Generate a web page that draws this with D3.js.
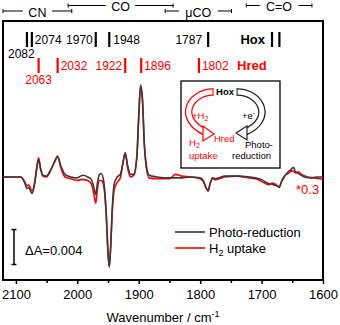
<!DOCTYPE html>
<html><head><meta charset="utf-8">
<script src="https://cdn.jsdelivr.net/npm/d3@7"></script>
<style>body{margin:0;background:#fff}svg{display:block;font-family:"Liberation Sans",Arial,sans-serif}</style>
</head><body>
<svg id="c" width="340" height="325"></svg>
<script>
// wavenumbers (cm-1) and ΔA (x1000)
const wnPhoto = [2121,2100,2092,2086,2082,2079,2074,2069,2066,2063,2060,2056,2050,2045,2038,2032,2027,2020,2010,2000,1995,1990,1983,1977,1973,1970,1967,1964,1961,1957,1953,1950,1948,1946,1943,1940,1935,1930,1926,1922,1918,1913,1908,1903,1900,1897,1894,1891,1887,1883,1870,1850,1830,1815,1800,1795,1790,1787,1784,1780,1775,1770,1760,1740,1720,1710,1700,1690,1685,1680,1675,1671,1668,1663,1657,1653,1648,1645,1640,1630,1620,1610,1600];
const dAPhoto = [0,0,0,-0.6,-1.3,-1.2,-1.9,-0.6,1.0,2.0,1.0,0.2,0.1,0.6,1.6,2.3,1.3,0.3,0.0,-0.1,0.1,0.2,0.0,-0.3,-1.2,-2.0,-0.6,0.3,0.4,-0.5,-4.0,-8.5,-10.3,-8.5,-3.5,-0.8,0.0,0.3,1.5,2.7,1.3,0.3,0.3,2.5,7.0,10.5,9.0,4.0,1.0,0.2,0,-0.1,-0.1,0,-0.1,-0.4,-1.3,-1.6,-0.8,-0.1,-0.2,-0.1,0.1,0.1,0,-0.1,-0.3,-0.7,-0.8,-0.9,-1.0,-1.2,-0.6,0.0,0.6,0.8,1.1,0.6,0.4,0.0,-0.1,0.0,0.0];
const wnH2 = [2121,2092,2086,2082,2079,2074,2069,2066,2063,2060,2056,2050,2045,2038,2032,2027,2020,2010,2000,1995,1990,1983,1977,1973,1970,1967,1964,1961,1957,1953,1950,1948,1946,1943,1940,1935,1930,1926,1922,1918,1913,1908,1903,1900,1897,1894,1891,1887,1883,1870,1850,1840,1830,1815,1800,1795,1790,1787,1784,1780,1775,1760,1740,1720,1710,1700,1692,1688,1683,1678,1671,1668,1663,1657,1650,1645,1640,1635,1625,1615,1605,1600];
const dAH2 = [0,0,-0.5,-1.0,-0.9,-1.6,-0.4,1.2,2.2,1.0,0.1,0.0,0.5,1.6,2.4,1.1,0.0,-0.2,-0.4,-0.3,-0.3,-0.4,-0.8,-2.0,-3.0,-1.2,-0.4,-0.4,-1.0,-4.3,-8.8,-10.2,-8.3,-3.8,-1.5,-0.6,-0.1,1.5,2.8,1.0,0.0,0.2,2.3,6.8,10.3,8.8,3.8,0.8,-0.1,-0.2,-0.2,0.3,0.1,0,-0.2,-0.5,-1.3,-1.6,-0.8,-0.2,-0.3,0,0.1,-0.1,-0.2,-0.5,-0.8,-0.9,-0.7,-0.8,-1.1,-0.6,0.1,0.4,0.7,0.5,0.6,0.3,0.0,-0.1,-0.2,-0.3];
const xTicks = [2100,2000,1900,1800,1700,1600];
const xMinorTicks = [2050,1950,1850,1750,1650];
const oxPos = [2082,2074,1970,1948,1787,1683,1671];
const redPos = [2063,2032,1922,1896,1802];
const scaleBar = [-10,-6];
const ranges = [{name:"CN",a:2121,b:2009,row:1},{name:"CO",a:2015,b:1844,row:0},{name:"μCO",a:1857,b:1749,row:1},{name:"C=O",a:1725,b:1618,row:0}];

const svg = d3.select("#c");
const x = d3.scaleLinear().domain([2121,1600]).range([3,323]);
const y = d3.scaleLinear().domain([-11.77,17.83]).range([280,21]);

// top range annotations
ranges.forEach(r=>{
  const yy = r.row ? 11 : 5.5;
  const x1 = x(r.a), x2 = x(r.b), xm=(x1+x2)/2;
  const g = svg.append("g").attr("stroke","#000").attr("stroke-width",1);
  const tw = r.name.length*4.8+5;
  g.append("line").attr("x1",x1).attr("x2",xm-tw).attr("y1",yy).attr("y2",yy);
  g.append("line").attr("x1",xm+tw).attr("x2",x2).attr("y1",yy).attr("y2",yy);
  g.append("line").attr("x1",x1).attr("x2",x1).attr("y1",yy-2).attr("y2",yy+2);
  g.append("line").attr("x1",x2).attr("x2",x2).attr("y1",yy-2).attr("y2",yy+2);
  svg.append("text").attr("x",xm).attr("y",yy+5.5).attr("text-anchor","middle").attr("font-size",12.5).text(r.name);
});

// frame
svg.append("rect").attr("x",3).attr("y",21).attr("width",320).attr("height",259).attr("fill","none").attr("stroke","#000").attr("stroke-width",2);

// axis
const ax = svg.append("g").attr("transform","translate(0,280)")
  .call(d3.axisBottom(x).tickValues(xTicks).tickSize(4).tickFormat(d3.format("d")));
ax.select(".domain").remove();
ax.selectAll("line").attr("stroke-width",1.5);
ax.selectAll("text").attr("font-size",13).attr("font-family","Liberation Sans, Arial, sans-serif").attr("dy","0.95em");
const axm = svg.append("g").attr("transform","translate(0,280)")
  .call(d3.axisBottom(x).tickValues(xMinorTicks).tickSize(3).tickFormat(""));
axm.select(".domain").remove();
axm.selectAll("line").attr("stroke-width",1.5);
const tt = svg.append("text").attr("x",163).attr("y",322).attr("text-anchor","middle").attr("font-size",13);
tt.append("tspan").text("Wavenumber / cm");
tt.append("tspan").attr("font-size",9).attr("dy",-5).text("-1");

// peak labels
svg.selectAll(".ob").data(oxPos).join("line").attr("x1",d=>x(d)).attr("x2",d=>x(d)).attr("y1",32).attr("y2",47).attr("stroke","#000").attr("stroke-width",2.2);
svg.selectAll(".rb").data(redPos).join("line").attr("x1",d=>x(d)).attr("x2",d=>x(d)).attr("y1",58).attr("y2",73).attr("stroke","#f00").attr("stroke-width",2.2);
const lbl=(t,px,py,col,anchor,bold,fs)=>svg.append("text").attr("x",px).attr("y",py).attr("fill",col).attr("font-size",fs||12).attr("text-anchor",anchor||"start").attr("font-weight",bold?"bold":"normal").text(t);
lbl("2074",x(2074)+3,44,"#000");
lbl("1970",x(1970)-3,44,"#000","end");
lbl("1948",x(1948)+4,44,"#000");
lbl("1787",x(1787)-6,44,"#000","end");
lbl("Hox",x(1683)-7,44,"#000","end",true,13);
lbl("2082",8,58,"#000");
lbl("2063",x(2063),84,"#f00","middle");
lbl("2032",x(2032)+3,70,"#f00");
lbl("1922",x(1922)-3,70,"#f00","end");
lbl("1896",x(1896)+3,70,"#f00");
lbl("1802",x(1802)+3,70,"#f00");
lbl("Hred",237,70,"#f00","start",true,13);

// spectra
const line = d3.line().x(d=>x(d[0])).y(d=>y(d[1])).curve(d3.curveMonotoneX);
svg.append("path").datum(d3.zip(wnH2,dAH2)).attr("d",line).attr("fill","none").attr("stroke","#f00").attr("stroke-width",1.6);
svg.append("path").datum(d3.zip(wnPhoto,dAPhoto)).attr("d",line).attr("fill","none").attr("stroke","#3a3a3a").attr("stroke-width",1.6);

lbl("*0.3",296,194,"#f00","start",false,13);

// scale bar
const sb = svg.append("g").attr("stroke","#000").attr("stroke-width",1.5);
sb.append("line").attr("x1",14).attr("x2",14).attr("y1",y(scaleBar[0])).attr("y2",y(scaleBar[1]));
sb.append("line").attr("x1",11.5).attr("x2",16.5).attr("y1",y(scaleBar[0])).attr("y2",y(scaleBar[0]));
sb.append("line").attr("x1",11.5).attr("x2",16.5).attr("y1",y(scaleBar[1])).attr("y2",y(scaleBar[1]));
lbl("ΔA=0.004",25,255,"#000","start",false,13);

// legend
svg.append("line").attr("x1",175).attr("x2",205).attr("y1",232).attr("y2",232).attr("stroke","#3a3a3a").attr("stroke-width",1.6);
svg.append("line").attr("x1",175).attr("x2",205).attr("y1",248).attr("y2",248).attr("stroke","#f00").attr("stroke-width",1.6);
lbl("Photo-reduction",209,237,"#000","start",false,13);
const l2 = svg.append("text").attr("x",209).attr("y",253).attr("font-size",13);
l2.append("tspan").text("H");
l2.append("tspan").attr("font-size",9).attr("dy",3).text("2");
l2.append("tspan").attr("dy",-3).text(" uptake");

// inset
svg.append("rect").attr("x",181).attr("y",81).attr("width",99).attr("height",87).attr("fill","#fff").attr("stroke","#000").attr("stroke-width",1.3);
function hollowArc(d,col){
  svg.append("path").attr("d",d).attr("fill","none").attr("stroke",col).attr("stroke-width",7.5);
  svg.append("path").attr("d",d).attr("fill","none").attr("stroke","#fff").attr("stroke-width",5);
}
hollowArc("M213,92 C190,92 176,118 205,132","#f00");
svg.append("path").attr("d","M203,126 L214,134 L203,141 Z").attr("fill","#fff").attr("stroke","#f00").attr("stroke-width",1.2);
hollowArc("M237,92 C262,92 274,120 245,132","#222");
svg.append("path").attr("d","M247,126 L236,133 L247,140 Z").attr("fill","#fff").attr("stroke","#222").attr("stroke-width",1.2);
// end caps
svg.append("line").attr("x1",213).attr("x2",213).attr("y1",88).attr("y2",96).attr("stroke","#f00").attr("stroke-width",1);
svg.append("line").attr("x1",237).attr("x2",237).attr("y1",88).attr("y2",96).attr("stroke","#222").attr("stroke-width",1);
const sm=(t,px,py,col,anchor,bold)=>svg.append("text").attr("x",px).attr("y",py).attr("fill",col).attr("font-size",9.5).attr("text-anchor",anchor||"start").attr("font-weight",bold?"bold":"normal").text(t);
sm("Hox",225,95,"#000","middle",true);
const h2t = svg.append("text").attr("x",192).attr("y",119).attr("fill","#f00").attr("font-size",9.5);
h2t.append("tspan").text("+H"); h2t.append("tspan").attr("font-size",7).attr("dy",2).text("2");
const et = svg.append("text").attr("x",242).attr("y",119).attr("fill","#000").attr("font-size",9.5);
et.append("tspan").text("+e"); et.append("tspan").attr("font-size",7).attr("dy",-4).text("-");
sm("Hred",214,142,"#f00");
const h2b = svg.append("text").attr("x",189).attr("y",146).attr("fill","#f00").attr("font-size",9.5);
h2b.append("tspan").text("H"); h2b.append("tspan").attr("font-size",7).attr("dy",2).text("2");
sm("uptake",189,159,"#f00");
sm("Photo-",245,148,"#000");
sm("reduction",232,159,"#000");
</script>
</body></html>
